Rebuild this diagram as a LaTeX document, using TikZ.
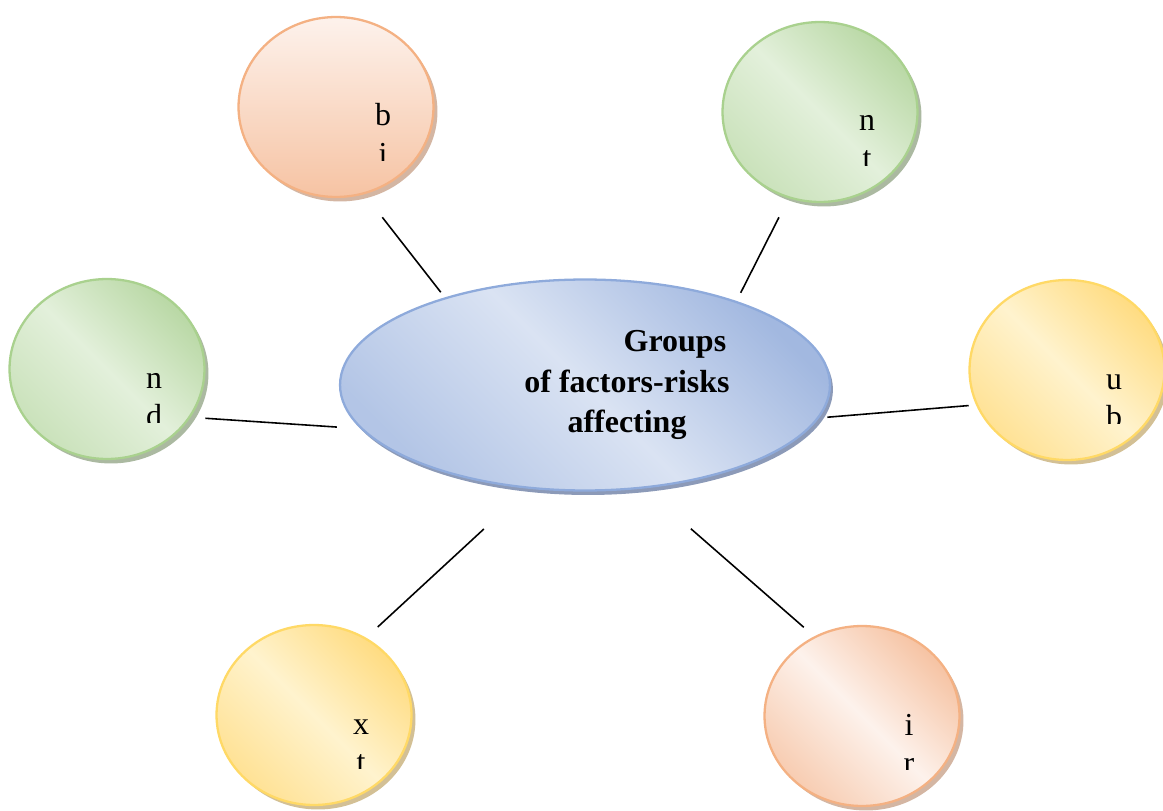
\documentclass[tikz,border=0pt]{standalone}
\usepackage{fontspec}
\setmainfont{Liberation Serif}
\usetikzlibrary{shapes.geometric,shadows,calc}

\definecolor{peachline}{HTML}{F4B183}
\definecolor{peachlight}{HTML}{FDF2EC}
\definecolor{peachdark}{HTML}{F6C3A3}
\definecolor{peachshade}{HTML}{C9A48C}
\definecolor{leafline}{HTML}{A9D18E}
\definecolor{leaflight}{HTML}{E3F0DB}
\definecolor{leafdark}{HTML}{B9D8A5}
\definecolor{leafshade}{HTML}{96A88A}
\definecolor{sunline}{HTML}{FFD966}
\definecolor{sunlight}{HTML}{FFF3CE}
\definecolor{sundark}{HTML}{FFDC82}
\definecolor{sunshade}{HTML}{C8B07A}
\definecolor{hubline}{HTML}{8EAADB}
\definecolor{hublight}{HTML}{DAE3F3}
\definecolor{hubdark}{HTML}{A2B8E0}
\definecolor{hubshade}{HTML}{7F8FB0}

\tikzset{
    factor/.style={ellipse, line width=1.3pt, inner sep=0pt,
        minimum width=3.9cm, minimum height=3.6cm},
    peachfade/.style={draw=peachline, top color=peachlight, bottom color=peachdark,
        drop shadow={shadow xshift=0.08cm, shadow yshift=-0.09cm, fill=peachshade, opacity=0.8}},
    peach/.style={draw=peachline, top color=peachdark, bottom color=peachdark!80!peachlight,
        middle color=peachlight, shading angle=-45,
        drop shadow={shadow xshift=0.08cm, shadow yshift=-0.09cm, fill=peachshade, opacity=0.8}},
    leaf/.style={draw=leafline, top color=leafdark, bottom color=leafdark!60!leaflight,
        middle color=leaflight, shading angle=-45,
        drop shadow={shadow xshift=0.08cm, shadow yshift=-0.09cm, fill=leafshade, opacity=0.8}},
    sun/.style={draw=sunline, top color=sundark, bottom color=sundark!75!sunlight,
        middle color=sunlight, shading angle=-45,
        drop shadow={shadow xshift=0.08cm, shadow yshift=-0.09cm, fill=sunshade, opacity=0.8}},
    hub/.style={ellipse, draw=hubline, line width=1.3pt, inner sep=0pt,
        minimum width=9.8cm, minimum height=4.22cm,
        top color=hubdark, bottom color=hubdark!70!hublight, middle color=hublight,
        shading angle=-45,
        drop shadow={shadow xshift=0.06cm, shadow yshift=-0.09cm, fill=hubshade, opacity=0.9}},
    hubtext/.style={font=\bfseries\fontsize{18.2}{23}\selectfont, align=center, inner sep=0pt},
    letter/.style={font=\fontsize{18.2}{22}\selectfont, anchor=base, inner sep=0pt},
    link/.style={line width=0.9pt, black}
}

\begin{document}
\begin{tikzpicture}[x=0.02cm, y=-0.02cm]
    \useasboundingbox (0,0) rectangle (1163,811);

    % Central ellipse with its heading
    \node[hub] (hub) at (585,385) {};
    \node[hubtext] (title) at ($(hub)+(42,0)$)
        {\hspace*{3em}Groups\\of factors-risks\\affecting};

    % Six factor circles, the text inside is cut off at the bottom
    \foreach \name/\x/\y/\look/\first/\second in {
        tl/336/107/peachfade/b/i, tr/820/112/leaf/n/t, lf/107/369/leaf/n/d,
        rt/1067/370/sun/u/b, bl/314/715/sun/x/t, br/862/716/peach/i/r
    }
    {
        \node[factor, \look] (\name) at (\x,\y) {};
        \begin{scope}
            \clip ($(\name)+(0,-90)$) rectangle ($(\name)+(97,53)$);
            \node[letter] (\name-a) at ($(\name)+(47,19)$) {\first};
            \node[letter] (\name-b) at ($(\name-a.base)+(0,38)$) {\second};
        \end{scope}
    }

    % Links from every circle to the centre
    \foreach \from/\fa/\ta/\sa/\sb in {
        tl/288.8/148/0.584/0.13, tr/250/29.4/0.424/0.184,
        lf/330.4/191.8/0.296/0.474, rt/201.5/352.3/0.145/0.166,
        bl/56/241.2/0.315/1.188, br/121.7/300/0.276/1.226
    }
    \draw[link, shorten <=\sa cm, shorten >=\sb cm] (\from.\fa) -- (hub.\ta);
\end{tikzpicture}
\end{document}
